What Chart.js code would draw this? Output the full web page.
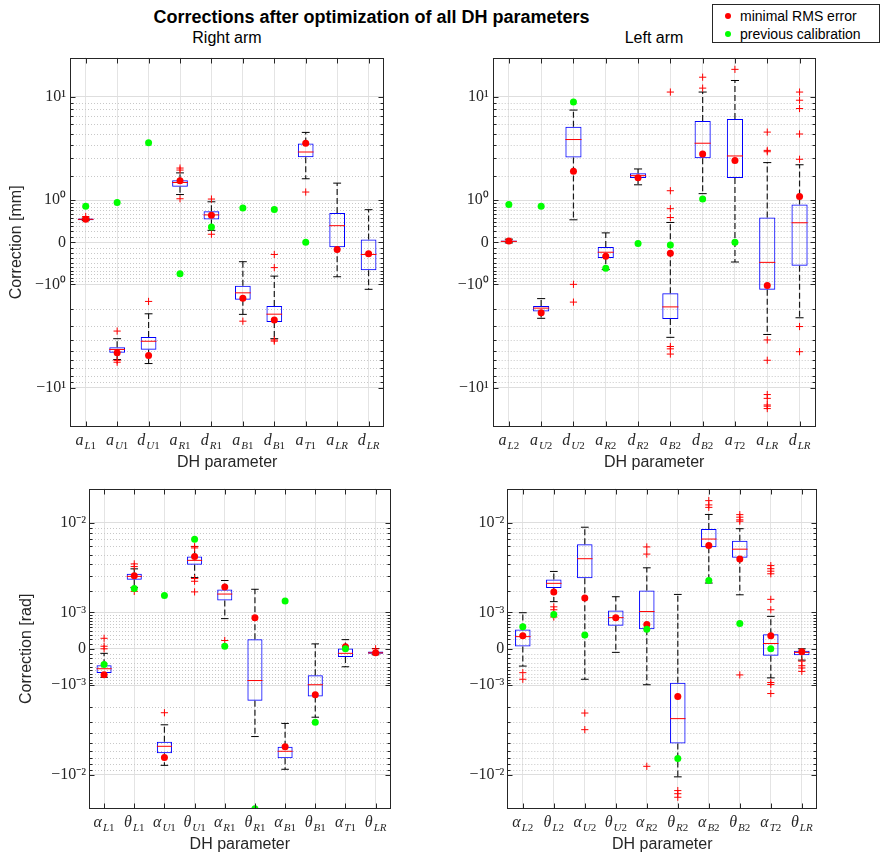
<!DOCTYPE html>
<html><head><meta charset="utf-8">
<script src="https://cdn.jsdelivr.net/npm/chart.js@4.4.1/dist/chart.umd.min.js"></script>
<style>
body{margin:0;background:#fff;width:881px;height:856px;position:relative;overflow:hidden;font-family:'Liberation Sans',Arial,sans-serif;color:#262626}
canvas{position:absolute}
#title{position:absolute;left:0;width:743px;top:6px;text-align:center;font-weight:bold;font-size:18px;line-height:22px;color:#000}
.sub{position:absolute;top:29px;width:300px;text-align:center;font-size:16px;line-height:18px;color:#000}
#legend{position:absolute;left:712px;top:4px;width:166px;height:37px;border:1px solid #262626;background:#fff;font-size:14px;color:#000}
#legend .row{position:absolute;left:0;height:18px;line-height:18px;white-space:nowrap}
#legend .dot{position:absolute;left:12px;top:6px;width:6px;height:6px;border-radius:50%}
#legend .txt{position:absolute;left:27px;top:0}
</style></head>
<body>
<div id="title">Corrections after optimization of all DH parameters</div>
<div class="sub" style="left:77px">Right arm</div>
<div class="sub" style="left:504px">Left arm</div>
<canvas id="c1" width="440" height="432" style="left:0;top:44px"></canvas>
<canvas id="c2" width="441" height="432" style="left:440px;top:44px"></canvas>
<canvas id="c3" width="440" height="380" style="left:0;top:476px"></canvas>
<canvas id="c4" width="441" height="380" style="left:440px;top:476px"></canvas>
<div id="legend">
  <div class="row" style="top:2px"><span class="dot" style="background:#ff0000"></span><span class="txt">minimal RMS error</span></div>
  <div class="row" style="top:20px"><span class="dot" style="background:#00ff00"></span><span class="txt">previous calibration</span></div>
</div>
<script>
// ---------- tick labels ----------
const mmTickValues = [-10, -1, 0, 1, 10];
const mmTickLabels = ['\u221210\u00b9', '\u221210\u2070', '0', '10\u2070', '10\u00b9'];
const radTickValues = [-1e-2, -1e-3, 0, 1e-3, 1e-2];
const radTickLabels = ['\u221210\u207b\u00b2', '\u221210\u207b\u00b3', '0', '10\u207b\u00b3', '10\u207b\u00b2'];
const minorMultipliers = [0.1,0.2,0.3,0.4,0.5,0.6,0.7,0.8,0.9,2,3,4,5,6,7,8,9,20];

// ---------- Right arm, lengths [mm] ----------
const rightMmLabels = [['a','L1'],['a','U1'],['d','U1'],['a','R1'],['d','R1'],['a','B1'],['d','B1'],['a','T1'],['a','LR'],['d','LR']];
const rightMmQ1  = [0.44, -5.17, -4.88, 1.50, 0.456, -1.575, -2.72, 3.06, -0.086, -0.584];
const rightMmMed = [0.46, -4.85, -4.11, 1.68, 0.571, -1.30, -2.27, 3.43, 0.315, -0.222];
const rightMmQ3  = [0.48, -4.64, -3.76, 1.78, 0.668, -1.05, -1.86, 4.10, 0.623, 0.048];
const rightMmLo  = [0.43, -5.91, -6.38, 1.197, 0.218, -2.28, -3.90, 1.85, -0.765, -1.17];
const rightMmHi  = [0.49, -3.90, -2.25, 2.14, 0.95, -0.377, -0.746, 5.12, 1.652, 0.712];
const rightMmRms = [0.46, -5.17, -5.45, 1.76, 0.56, -1.52, -2.60, 4.12, -0.127, -0.21];
const rightMmPrev = [0.81, 0.93, 4.15, -0.68, 0.287, 0.76, 0.72, 0.0, null, null];
const rightMmOut = [[0.53], [-3.32, -6.0, -6.22], [-1.65], [2.40, 2.29, 1.05], [1.04, 0.142], [-2.67], [-0.222, -0.518, -4.0, -4.1], [1.29], [], []];

// ---------- Left arm, lengths [mm] ----------
const leftMmLabels = [['a','L2'],['a','U2'],['d','U2'],['a','R2'],['d','R2'],['a','B2'],['d','B2'],['a','T2'],['a','LR'],['d','LR']];
const leftMmQ1  = [0.0, -2.13, 3.04, -0.297, 1.89, -2.54, 3.0, 1.89, -1.19, -0.47];
const leftMmMed = [0.015, -1.96, 4.44, -0.178, 2.0, -1.90, 4.12, 3.15, -0.392, 0.38];
const leftMmQ3  = [0.03, -1.86, 5.71, -0.081, 2.117, -1.32, 6.40, 6.64, 0.504, 0.868];
const leftMmLo  = [-0.01, -2.50, 0.449, -0.569, 1.58, -3.79, 1.23, -0.384, -3.57, -2.47];
const leftMmHi  = [0.053, -1.53, 7.84, 0.168, 2.35, 0.387, 10.9, 13.4, 2.72, 2.59];
const leftMmRms = [0.02, -2.20, 2.22, -0.256, 1.9, -0.20, 3.29, 2.85, -1.04, 1.127];
const leftMmPrev = [0.868, 0.81, 9.1, -0.534, -0.018, -0.046, 1.04, 0.0, null, null];
const leftMmOut = [[], [], [-1.0, -1.68], [], [], [10.9, 1.34, 0.74, 0.504, -4.57, -4.79, -5.31], [14.2, 11.7], [16.3],
  [5.15, 3.55, 3.45, -4.0, -5.99, -11.3, -12.1, -13.6, -13.9, -14.5], [10.9, 9.4, 8.07, 4.96, 2.93, -3.01, -5.07]];

// ---------- Right arm, angles [rad] ----------
const rightRadLabels = [['\u03b1','L1'],['\u03b8','L1'],['\u03b1','U1'],['\u03b8','U1'],['\u03b1','R1'],['\u03b8','R1'],['\u03b1','B1'],['\u03b8','B1'],['\u03b1','T1'],['\u03b8','LR']];
const rightRadQ1  = [-0.583e-3, 2.72e-3, -6.28e-3, 3.95e-3, 1.50e-3, -1.69e-3, -6.99e-3, -1.48e-3, -0.168e-3, -0.10e-3];
const rightRadMed = [-0.461e-3, 2.96e-3, -5.38e-3, 4.37e-3, 1.83e-3, -0.828e-3, -6.01e-3, -0.98e-3, -0.09e-3, -0.08e-3];
const rightRadQ3  = [-0.364e-3, 3.17e-3, -4.85e-3, 4.79e-3, 2.09e-3, 0.198e-3, -5.42e-3, -0.656e-3, 0.005e-3, -0.055e-3];
const rightRadLo  = [-0.718e-3, 2.21e-3, -8.16e-3, 2.87e-3, 0.774e-3, -4.30e-3, -8.87e-3, -2.67e-3, -0.407e-3, -0.12e-3];
const rightRadHi  = [-0.09e-3, 3.57e-3, -3.24e-3, 5.98e-3, 2.66e-3, 2.1e-3, -3.13e-3, 0.098e-3, 0.19e-3, 0.005e-3];
const rightRadRms = [-0.634e-3, 3.0e-3, -6.89e-3, 4.79e-3, 2.24e-3, 0.807e-3, -5.42e-3, -1.40e-3, 0.04e-3, -0.08e-3];
const rightRadPrev = [-0.348e-3, 2.15e-3, 1.76e-3, 7.01e-3, 0.05e-3, -0.0199, 1.48e-3, -3.03e-3, 0.0, null];
const rightRadOut = [[0.221e-3, 0.05e-3, 0.0], [4.02e-3, 3.77e-3, 1.98e-3], [-2.37e-3], [6.0e-3, 5.8e-3, 2.8e-3, 2.61e-3, 1.95e-3], [0.17e-3], [], [], [], [], [0.0]];

// ---------- Left arm, angles [rad] ----------
const leftRadLabels = [['\u03b1','L2'],['\u03b8','L2'],['\u03b1','U2'],['\u03b8','U2'],['\u03b1','R2'],['\u03b8','R2'],['\u03b1','B2'],['\u03b8','B2'],['\u03b1','T2'],['\u03b8','LR']];
const leftRadQ1  = [0.046e-3, 2.18e-3, 2.82e-3, 0.548e-3, 0.452e-3, -5.04e-3, 5.90e-3, 4.65e-3, -0.14e-3, -0.13e-3];
const leftRadMed = [0.26e-3, 2.47e-3, 4.54e-3, 0.807e-3, 1.03e-3, -2.77e-3, 7.05e-3, 5.64e-3, 0.106e-3, -0.07e-3];
const leftRadQ3  = [0.445e-3, 2.74e-3, 6.29e-3, 1.07e-3, 2.03e-3, -0.909e-3, 8.76e-3, 6.80e-3, 0.316e-3, -0.037e-3];
const leftRadLo  = [-0.389e-3, 1.45e-3, -0.784e-3, -0.07e-3, -0.98e-3, -10.4e-3, 2.49e-3, 1.79e-3, -0.738e-3, -0.24e-3];
const leftRadHi  = [0.985e-3, 3.35e-3, 9.08e-3, 1.69e-3, 3.66e-3, 1.81e-3, 11.85e-3, 8.8e-3, 0.852e-3, 0.0];
const leftRadRms = [0.284e-3, 1.95e-3, 1.63e-3, 0.807e-3, 0.585e-3, -1.48e-3, 6.11e-3, 4.51e-3, 0.284e-3, -0.06e-3];
const leftRadPrev = [0.519e-3, 0.92e-3, 0.299e-3, null, 0.45e-3, -7.04e-3, 2.66e-3, 0.616e-3, 0.0, null];
const leftRadOut = [[-0.574e-3, -0.784e-3], [1.22e-3, 1.10e-3, 0.83e-3], [-2.39e-3, -3.65e-3], [], [5.93e-3, 5.05e-3, -8.33e-3],
  [-13.8e-3, -14.7e-3, -15.8e-3], [15.7e-3, 14.4e-3, 13.7e-3], [11.8e-3, 11.2e-3, 10.6e-3, 10.3e-3, -0.643e-3],
  [3.86e-3, 3.58e-3, 3.37e-3, 3.16e-3, 1.56e-3, 1.10e-3, -0.897e-3, -0.97e-3, -1.34e-3], [-0.265e-3, -0.38e-3, -0.44e-3, -0.536e-3]];

// symmetric log transform: sign(v)*log10(1+|v|/C)
function tf(v, C) { return Math.sign(v) * Math.log10(1 + Math.abs(v) / C); }

Chart.defaults.font.family = "'Liberation Sans', Arial, sans-serif";

const matlabAxes = {
  id: 'matlabAxes',
  beforeDatasetsDraw(chart, args, o) {
    const {ctx, chartArea: a, scales: {y}} = chart;
    ctx.save();
    ctx.beginPath(); ctx.rect(a.left, a.top, a.right - a.left, a.bottom - a.top); ctx.clip();
    ctx.strokeStyle = '#c8c8c8'; ctx.lineWidth = 1; ctx.setLineDash([1, 2]);
    o.minor.forEach(v => {
      const py = Math.round(y.getPixelForValue(tf(v, o.C))) + 0.5;
      ctx.beginPath(); ctx.moveTo(a.left, py); ctx.lineTo(a.right, py); ctx.stroke();
    });
    ctx.restore();
  },
  afterDraw(chart, args, o) {
    const {ctx, chartArea: a, scales: {x, y}} = chart;
    ctx.save();
    ctx.strokeStyle = '#262626'; ctx.lineWidth = 1;
    ctx.beginPath();
    const L = Math.round(a.left) + 0.5, R = Math.round(a.right) - 0.5, Tp = Math.round(a.top) + 0.5, B = Math.round(a.bottom) - 0.5;
    o.major.forEach(v => {
      const py = Math.round(y.getPixelForValue(tf(v, o.C))) + 0.5;
      ctx.moveTo(L, py); ctx.lineTo(L + 5, py); ctx.moveTo(R, py); ctx.lineTo(R - 5, py);
    });
    o.minor.forEach(v => {
      const py = Math.round(y.getPixelForValue(tf(v, o.C))) + 0.5;
      if (py < Tp || py > B) return;
      ctx.moveTo(L, py); ctx.lineTo(L + 3, py); ctx.moveTo(R, py); ctx.lineTo(R - 3, py);
    });
    o.labels.forEach((_, i) => {
      const px = Math.round(x.getPixelForValue(i)) + 0.5;
      ctx.moveTo(px, B); ctx.lineTo(px, B - 5); ctx.moveTo(px, Tp); ctx.lineTo(px, Tp + 5);
    });
    ctx.stroke();
    ctx.strokeRect(L, Tp, R - L, B - Tp);
    // x tick labels with subscripts
    ctx.fillStyle = '#262626'; ctx.textBaseline = 'alphabetic'; ctx.textAlign = 'left';
    const mainFont = 'italic 16px "Liberation Serif"';
    const subI = 'italic 11px "Liberation Serif"', subN = '11px "Liberation Serif"';
    const base = a.bottom + 18;
    o.labels.forEach(([m, s], i) => {
      const px = x.getPixelForValue(i);
      ctx.font = mainFont; const wm = ctx.measureText(m).width;
      let ws = 0;
      for (const ch of s) { ctx.font = /\d/.test(ch) ? subN : subI; ws += ctx.measureText(ch).width; }
      let cx = px - (wm + 1 + ws) / 2;
      ctx.font = mainFont; ctx.fillText(m, cx, base); cx += wm + 1;
      for (const ch of s) { ctx.font = /\d/.test(ch) ? subN : subI; ctx.fillText(ch, cx, base + 3.5); cx += ctx.measureText(ch).width; }
    });
    ctx.restore();
  }
};

function makePanel(p) {
  const C = p.C, n = p.labels.length;
  const T = v => tf(v, C);
  const boxes = p.q1.map((q, i) => ({x: i, y: [T(p.q1[i]), T(p.q3[i])]}));
  const medians = p.med.map((m, i) => ({x: i, y: T(m)}));
  const caps = [], whisk = [];
  for (let i = 0; i < n; i++) {
    caps.push({x: i, y: T(p.lo[i])}, {x: i, y: T(p.hi[i])});
    whisk.push({x: i, y: T(p.q3[i])}, {x: i, y: T(p.hi[i])}, {x: i, y: NaN},
               {x: i, y: T(p.q1[i])}, {x: i, y: T(p.lo[i])}, {x: i, y: NaN});
  }
  const outl = [];
  p.out.forEach((arr, i) => arr.forEach(v => outl.push({x: i, y: T(v)})));
  const rms = p.rms.map((v, i) => v === null ? null : {x: i, y: T(v)}).filter(Boolean);
  const prev = p.prev.map((v, i) => v === null ? null : {x: i, y: T(v)}).filter(Boolean);
  const catW = ctx => (ctx.chart.scales.x ? ctx.chart.scales.x.width : 310) / n;
  const minor = [];
  minorMultipliers.forEach(m => { minor.push(m * C, -m * C); });

  new Chart(document.getElementById(p.id), {
    type: 'bar',
    data: {datasets: [
      {type: 'scatter', data: prev, backgroundColor: '#00ff00', borderWidth: 0, pointRadius: 3.5, clip: 0},
      {type: 'scatter', data: rms, backgroundColor: '#ff0000', borderWidth: 0, pointRadius: 3.5, clip: 0},
      {type: 'scatter', data: outl, pointStyle: 'cross', pointRadius: 3.6, borderColor: '#ff0000', backgroundColor: '#ff0000', borderWidth: 1, clip: 0},
      {type: 'scatter', data: medians, pointStyle: 'line', pointRadius: ctx => catW(ctx) * 0.25, borderColor: '#ff0000', borderWidth: 1, clip: 0},
      {type: 'scatter', data: caps, pointStyle: 'line', pointRadius: ctx => catW(ctx) * 0.125, borderColor: '#000000', borderWidth: 1, clip: 0},
      {type: 'line', data: whisk, borderColor: '#1a1a1a', borderWidth: 1.2, borderDash: [6, 3], pointRadius: 0, spanGaps: false, fill: false, clip: 0},
      {type: 'bar', data: boxes, backgroundColor: 'rgba(0,0,0,0)', borderColor: '#0000ff', borderWidth: 1, borderSkipped: false,
       barPercentage: 0.5, categoryPercentage: 1, grouped: false, clip: 0}
    ]},
    options: {
      responsive: false, animation: false, events: [],
      layout: {padding: {left: 0, top: p.padTop, right: p.padRight, bottom: 0}},
      plugins: {legend: {display: false}, tooltip: {enabled: false},
        matlabAxes: {C: C, major: p.tickValues, minor: minor, labels: p.labels}},
      scales: {
        x: {type: 'linear', min: -0.5, max: n - 0.5, offset: false,
          afterBuildTicks: s => { s.ticks = p.labels.map((_, i) => ({value: i})); },
          afterFit: s => { s.height = p.xH; },
          ticks: {display: false},
          grid: {color: '#e4e4e4', drawTicks: false, offset: false, lineWidth: 1},
          border: {display: false},
          title: {display: true, text: 'DH parameter', color: '#262626', font: {size: 16}, padding: {top: 0, bottom: p.xTitlePad}}
        },
        y: {type: 'linear', min: T(-p.limit), max: T(p.limit), beginAtZero: false,
          afterBuildTicks: s => { s.ticks = p.tickValues.map(v => ({value: T(v)})); },
          afterFit: s => { s.width = p.yW; },
          ticks: {autoSkip: false, padding: p.tickPad, color: '#262626', font: {family: "'Liberation Serif', serif", size: 16},
            callback: (v, i) => p.tickLabels[i]},
          grid: {color: '#dedede', drawTicks: false, lineWidth: 1},
          border: {display: false},
          title: {display: !!p.yTitle, text: p.yTitle || '', color: '#262626', font: {size: 16}, padding: {top: p.yTitlePad || 0, bottom: 0}}
        }
      }
    },
    plugins: [matlabAxes]
  });
}

makePanel({id: 'c1', C: 1, limit: 20, labels: rightMmLabels, q1: rightMmQ1, med: rightMmMed, q3: rightMmQ3, lo: rightMmLo, hi: rightMmHi,
  rms: rightMmRms, prev: rightMmPrev, out: rightMmOut, tickValues: mmTickValues, tickLabels: mmTickLabels,
  padTop: 8, padRight: 55.7, yW: 70, xH: 49, yTitle: 'Correction [mm]', yTitlePad: 7.4, xTitlePad: 3.7, tickPad: 4});
makePanel({id: 'c2', C: 1, limit: 20, labels: leftMmLabels, q1: leftMmQ1, med: leftMmMed, q3: leftMmQ3, lo: leftMmLo, hi: leftMmHi,
  rms: leftMmRms, prev: leftMmPrev, out: leftMmOut, tickValues: mmTickValues, tickLabels: mmTickLabels,
  padTop: 8, padRight: 65.3, yW: 52.7, xH: 49, yTitle: '', xTitlePad: 3.7, tickPad: 4});
makePanel({id: 'c3', C: 1e-3, limit: 0.02, labels: rightRadLabels, q1: rightRadQ1, med: rightRadMed, q3: rightRadQ3, lo: rightRadLo, hi: rightRadHi,
  rms: rightRadRms, prev: rightRadPrev, out: rightRadOut, tickValues: radTickValues, tickLabels: radTickLabels,
  padTop: 6.7, padRight: 49.3, yW: 89, xH: 47, yTitle: 'Correction [rad]', yTitlePad: 17.4, xTitlePad: 1.4, tickPad: 3});
makePanel({id: 'c4', C: 1e-3, limit: 0.02, labels: leftRadLabels, q1: leftRadQ1, med: leftRadMed, q3: leftRadQ3, lo: leftRadLo, hi: leftRadHi,
  rms: leftRadRms, prev: leftRadPrev, out: leftRadOut, tickValues: radTickValues, tickLabels: radTickLabels,
  padTop: 6.7, padRight: 63.7, yW: 67.3, xH: 47, yTitle: '', xTitlePad: 1.4, tickPad: 3});
</script>
</body></html>
